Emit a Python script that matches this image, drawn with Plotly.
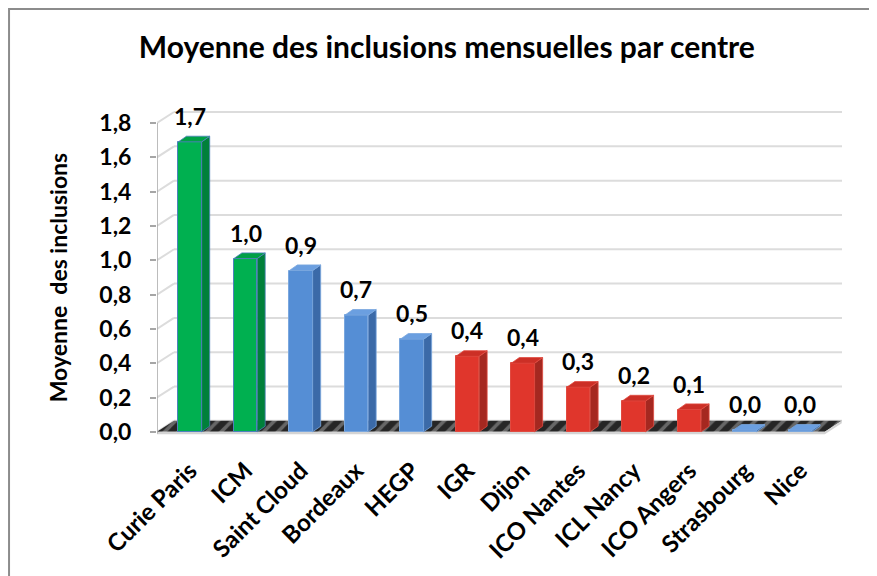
import plotly.graph_objects as go

# ---- data ----
centres = ["Curie Paris", "ICM", "Saint Cloud", "Bordeaux", "HEGP", "IGR", "Dijon",
           "ICO Nantes", "ICL Nancy", "ICO Angers", "Strasbourg", "Nice"]
moyennes = [1.69, 1.01, 0.94, 0.68, 0.54, 0.44, 0.40, 0.26, 0.18, 0.13, 0.01, 0.01]
y_ticks = [0.0, 0.2, 0.4, 0.6, 0.8, 1.0, 1.2, 1.4, 1.6, 1.8]

# ---- style ----
GREEN = ("#00b050", "#00803a", "#00a046", "#4f81bd")
BLUE = ("#558ed5", "#3b6aa8", "#6b9fe0", "#7aa7de")
RED = ("#e0362c", "#a52820", "#cc2f26", "#e04a40")
bar_styles = [GREEN, GREEN, BLUE, BLUE, BLUE, RED, RED, RED, RED, RED, BLUE, BLUE]

FONT = "Lato"
X_RANGE = [-0.595, 11.75]
Y_RANGE = [-0.03, 1.934]
FLOOR_DX, FLOOR_DY = 0.306, 0.064   # back wall offset
BAR_W, BAR_DX, BAR_DY = 0.42, 0.145, 0.033

xs = list(range(len(centres)))
fig = go.Figure()

# floor (base subplot, below bars)
x_left, x_right_front = X_RANGE[0], 11.44
fig.add_trace(go.Scatter(
    x=[x_left, x_right_front, x_right_front + FLOOR_DX, x_left + FLOOR_DX, x_left],
    y=[0, 0, FLOOR_DY, FLOOR_DY, 0],
    mode="lines", line=dict(width=0), fill="toself", fillcolor="#2b2b2b",
    fillpattern=dict(shape="/", bgcolor="#262626", fgcolor="#a8a8a8", size=10, solidity=0.35),
    hoverinfo="skip", showlegend=False, xaxis="x", yaxis="y"))
# floor front edge
fig.add_trace(go.Scatter(
    x=[x_left, x_right_front, x_right_front + FLOOR_DX, x_right_front + FLOOR_DX,
       x_right_front, x_left, x_left],
    y=[0, 0, FLOOR_DY, FLOOR_DY - 0.014, -0.014, -0.014, 0],
    mode="lines", line=dict(width=0), fill="toself", fillcolor="#d4d4d4",
    hoverinfo="skip", showlegend=False, xaxis="x", yaxis="y"))

# bars (overlay subplot so they sit on top of the floor)
fig.add_trace(go.Bar(
    x=xs, y=moyennes, width=BAR_W,
    marker=dict(color=[s[0] for s in bar_styles],
                line=dict(color=[s[3] for s in bar_styles], width=1)),
    hoverinfo="skip", showlegend=False, xaxis="x2", yaxis="y2"))

shapes = []
# back-wall gridlines + left-wall diagonals
for t in y_ticks:
    shapes.append(dict(type="line", xref="x", yref="y", layer="below",
                       x0=X_RANGE[0] + FLOOR_DX, x1=X_RANGE[1], y0=t + FLOOR_DY, y1=t + FLOOR_DY,
                       line=dict(color="#dcdcdc", width=2)))
    shapes.append(dict(type="line", xref="x", yref="y", layer="below",
                       x0=X_RANGE[0], x1=X_RANGE[0] + FLOOR_DX, y0=t, y1=t + FLOOR_DY,
                       line=dict(color="#dcdcdc", width=2)))
# y axis line
shapes.append(dict(type="line", xref="x", yref="y", x0=X_RANGE[0], x1=X_RANGE[0],
                   y0=-0.01, y1=y_ticks[-1], line=dict(color="#a6a6a6", width=1.5)))

# 3D faces of bars
for i, v in enumerate(moyennes):
    _, side, top, edge = bar_styles[i]
    xr = i + BAR_W / 2
    xl = i - BAR_W / 2
    shapes.append(dict(type="path", xref="x2", yref="y2", layer="above",
                       path=f"M {xr},0 L {xr + BAR_DX},{BAR_DY} L {xr + BAR_DX},{v + BAR_DY} L {xr},{v} Z",
                       fillcolor=side, line=dict(color=edge, width=0.8)))
    shapes.append(dict(type="path", xref="x2", yref="y2", layer="above",
                       path=f"M {xl},{v} L {xl + BAR_DX},{v + BAR_DY} L {xr + BAR_DX},{v + BAR_DY} L {xr},{v} Z",
                       fillcolor=top, line=dict(color=edge, width=0.8)))

# chart border
shapes.append(dict(type="rect", xref="paper", yref="paper", x0=-0.216, x1=1.08, y0=-0.5, y1=1.27,
                   line=dict(color="#8c8c8c", width=2), fillcolor="rgba(0,0,0,0)"))

annotations = []
for i, v in enumerate(moyennes):
    annotations.append(dict(x=i, y=v, xref="x2", yref="y2", text=f"{v:.1f}".replace(".", ","),
                            showarrow=False, yanchor="middle", yshift=26,
                            font=dict(family=FONT, size=23, color="black", weight="bold")))
annotations.append(dict(x=-0.144, y=0.475, xref="paper", yref="paper", textangle=-90,
                        xanchor="center", yanchor="middle",
                        text="Moyenne  des inclusions", showarrow=False,
                        font=dict(family=FONT, size=23, color="black", weight="bold")))

axis_common = dict(range=X_RANGE, showgrid=False, zeroline=False, showline=False)
fig.update_layout(
    width=869, height=568,
    margin=dict(l=149, r=35, t=92, b=139, autoexpand=False),
    paper_bgcolor="white", plot_bgcolor="rgba(0,0,0,0)",
    separators=", ",
    title=dict(text="Moyenne des inclusions mensuelles par centre", x=0.505, xanchor="center",
               y=0.9296, yanchor="middle",
               font=dict(family=FONT, size=30, color="black", weight="bold")),
    xaxis=dict(**axis_common, tickmode="array", tickvals=xs, ticktext=centres, tickangle=-45,
               ticks="", automargin=False, ticklabelstandoff=14,
               tickfont=dict(family=FONT, size=24, color="black", weight="bold")),
    yaxis=dict(range=Y_RANGE, showgrid=False, zeroline=False, showline=False,
               tickmode="array", tickvals=y_ticks, tickformat=".1f", automargin=False,
               ticks="outside", ticklen=6, tickcolor="#a6a6a6", tickwidth=1.5,
               ticklabelstandoff=14,
               tickfont=dict(family=FONT, size=23, color="black", weight="bold")),
    xaxis2=dict(**axis_common, overlaying="x", matches="x", showticklabels=False),
    yaxis2=dict(range=Y_RANGE, showgrid=False, zeroline=False, showline=False,
                overlaying="y", showticklabels=False),
    shapes=shapes, annotations=annotations, bargap=0,
)

fig.write_html("out.html")
